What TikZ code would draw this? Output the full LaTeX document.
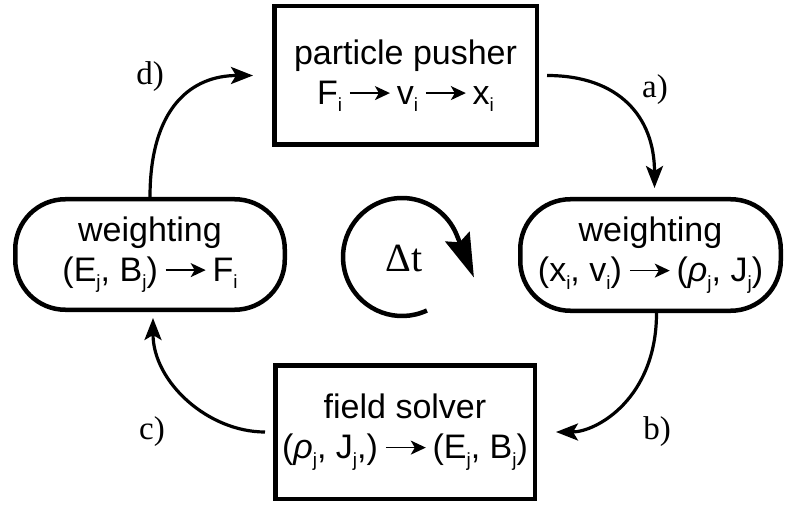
\documentclass[tikz,border=0pt]{standalone}
\usepackage{fontspec}
\setmainfont{Liberation Sans}
\newfontfamily\seriffam{Liberation Serif}
\usetikzlibrary{arrows.meta,calc}
\newcommand\sbs[1]{\raisebox{-0.22em}{\fontsize{19}{19}\selectfont #1}}
\newcommand\rar{\hspace{7pt}\tikz[baseline=-11pt]\draw[line width=1.7pt,-{Stealth[length=15pt,width=14pt,inset=4pt]}] (0pt,0pt)--(40pt,0pt);\hspace{6pt}}
\begin{document}
\begin{tikzpicture}[x=1pt,y=1pt,
  box/.style={draw, line width=4.5pt, align=center, font=\fontsize{34}{40}\selectfont, inner sep=0pt},
  pill/.style={box, rounded corners=50pt},
  conn/.style={line width=3.2pt, -{Stealth[length=22pt,width=17pt,inset=5pt]}},
  lab/.style={font=\seriffam\fontsize{33}{33}\selectfont}]
\useasboundingbox (0,0) rectangle (786,504);
\node[box, minimum width=262.5pt, minimum height=138.5pt] (P) at (405.5,428.5) {particle pusher\\F\sbs{i}\rar v\sbs{i}\rar x\sbs{i}};
\node[box, minimum width=259.5pt, minimum height=133.5pt] (S) at (405,72) {field solver\\(\textit{ρ}\sbs{j}, J\sbs{j},)\rar(E\sbs{j}, B\sbs{j})};
\node[pill, minimum width=269.5pt, minimum height=110.5pt] (L) at (150,249.5) {weighting\\(E\sbs{j}, B\sbs{j})\rar F\sbs{i}};
\node[pill, minimum width=260.5pt, minimum height=111.5pt] (R) at (650.5,249) {weighting\\(x\sbs{i}, v\sbs{i})\rar(\textit{ρ}\sbs{j}, J\sbs{j})};
\draw[conn, shorten >=19pt] (L.north) .. controls +(0,90) and +(-80,0) .. (P.west);
\draw[conn, shorten <=8pt, shorten >=9pt] (P.east) .. controls +(80,0) and +(0,80) .. ([xshift=4pt]R.north);
\draw[conn, shorten >=19pt] ([xshift=6pt]R.south) .. controls +(0,-85) and +(60,0) .. (S.east);
\draw[conn, shorten <=8pt, shorten >=6pt] (S.west) .. controls +(-65,0) and +(0,-70) .. ([xshift=3pt]L.south);
\node[lab] (la) at (655,414) {a)};
\node[lab] (lb) at (657,72) {b)};
\node[lab] (lc) at (152,72) {c)};
\node[lab] (ld) at (150,427) {d)};
\coordinate (O) at (402,247);
\draw[line width=4.5pt, -{Stealth[length=44pt,width=26pt,inset=6pt]}] ($(O)+(295:59)$) arc[start angle=295, end angle=22, radius=59] -- ++(-68:46);
\node[font=\seriffam\fontsize{40}{40}\selectfont] (dt) at (404,246) {Δt};
\end{tikzpicture}
\end{document}
